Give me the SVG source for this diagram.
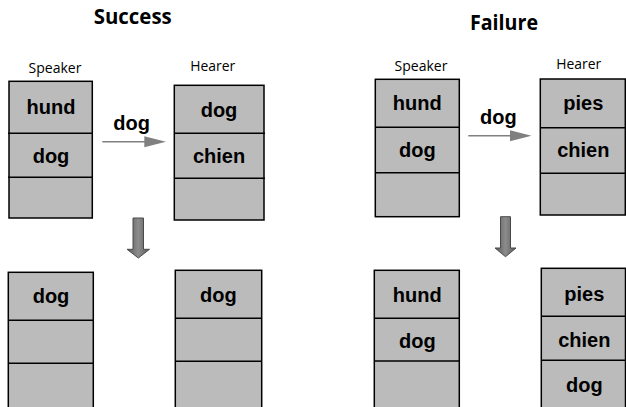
<svg xmlns="http://www.w3.org/2000/svg" width="626" height="407" viewBox="0 0 626 407">
<style>
.box{fill:#bbbbbb;stroke:#000;stroke-width:1.5}
.div{stroke:#000;stroke-width:1.5}
.w{font-family:"Liberation Sans",Arial,sans-serif;font-weight:bold;font-size:20px;fill:#000;text-anchor:middle}
.lab{font-family:"Open Sans","Liberation Sans",sans-serif;font-size:14px;fill:#000;text-anchor:middle}
.title{font-family:"Open Sans","Liberation Sans",sans-serif;font-weight:bold;font-size:21px;fill:#000;text-anchor:middle}
.arr{stroke:#808080;stroke-width:1.5;fill:none}
.head{fill:#808080}
.down{fill:url(#dg);stroke:#4a4a4a;stroke-width:1}
</style>
<defs>
<linearGradient id="dg" x1="0" y1="0" x2="1" y2="0">
<stop offset="0" stop-color="#5a5a5a"/>
<stop offset="0.5" stop-color="#8c8c8c"/>
<stop offset="1" stop-color="#5a5a5a"/>
</linearGradient>
</defs>
<rect width="626" height="407" fill="#fff"/>
<text class="title" x="132.7" y="24.3" textLength="78" lengthAdjust="spacingAndGlyphs">Success</text>
<text class="title" x="504" y="30" textLength="68" lengthAdjust="spacingAndGlyphs">Failure</text>
<text class="lab" x="55" y="72.7" textLength="53" lengthAdjust="spacingAndGlyphs">Speaker</text>
<text class="lab" x="212.7" y="71" textLength="45" lengthAdjust="spacingAndGlyphs">Hearer</text>
<text class="lab" x="421" y="70.7" textLength="53" lengthAdjust="spacingAndGlyphs">Speaker</text>
<text class="lab" x="578.7" y="69" textLength="45" lengthAdjust="spacingAndGlyphs">Hearer</text>

<g id="s-speaker">
<rect class="box" x="9" y="81.3" width="83.3" height="136.7"/>
<line class="div" x1="8" y1="133.3" x2="92.3" y2="133.3"/>
<line class="div" x1="8" y1="177.3" x2="92.3" y2="177.3"/>
<text class="w" x="51" y="114">hund</text>
<text class="w" x="51" y="163">dog</text>
</g>
<g id="s-hearer">
<rect class="box" x="174.3" y="85.3" width="89.7" height="134.7"/>
<line class="div" x1="174.3" y1="133.3" x2="265" y2="133.3"/>
<line class="div" x1="174.3" y1="178.3" x2="265" y2="178.3"/>
<text class="w" x="219" y="116.7">dog</text>
<text class="w" x="219" y="162.7">chien</text>
</g>
<g id="s-speaker-after">
<rect class="box" x="8.3" y="272.3" width="85" height="150"/>
<line class="div" x1="8.3" y1="320.3" x2="93.3" y2="320.3"/>
<line class="div" x1="8.3" y1="363.3" x2="93.3" y2="363.3"/>
<text class="w" x="51" y="303.3">dog</text>
</g>
<g id="s-hearer-after">
<rect class="box" x="175.3" y="270.3" width="86.4" height="150"/>
<line class="div" x1="175.3" y1="318.3" x2="261.7" y2="318.3"/>
<line class="div" x1="175.3" y1="361.3" x2="261.7" y2="361.3"/>
<text class="w" x="218.3" y="301.7">dog</text>
</g>
<g id="f-speaker">
<rect class="box" x="375.3" y="79.3" width="84" height="137.4"/>
<line class="div" x1="375.3" y1="127.3" x2="459.3" y2="127.3"/>
<line class="div" x1="375.3" y1="172.7" x2="459.3" y2="172.7"/>
<text class="w" x="417.3" y="110">hund</text>
<text class="w" x="417.3" y="157.3">dog</text>
</g>
<g id="f-hearer">
<rect class="box" x="540.3" y="79" width="85" height="136"/>
<line class="div" x1="540.3" y1="127.7" x2="625.3" y2="127.7"/>
<line class="div" x1="540.3" y1="173.3" x2="625.3" y2="173.3"/>
<text class="w" x="583.3" y="110">pies</text>
<text class="w" x="583.3" y="156.7">chien</text>
</g>
<g id="f-speaker-after">
<rect class="box" x="374.3" y="270.3" width="85" height="150"/>
<line class="div" x1="374.3" y1="318.3" x2="459.3" y2="318.3"/>
<line class="div" x1="374.3" y1="361" x2="459.3" y2="361"/>
<text class="w" x="417.3" y="301.7">hund</text>
<text class="w" x="417.3" y="348.3">dog</text>
</g>
<g id="f-hearer-after">
<rect class="box" x="541.3" y="268.3" width="84.2" height="150"/>
<line class="div" x1="541.3" y1="316.3" x2="626" y2="316.3"/>
<line class="div" x1="541.3" y1="360.3" x2="626" y2="360.3"/>
<text class="w" x="584.3" y="300.7">pies</text>
<text class="w" x="584.3" y="346.7">chien</text>
<text class="w" x="584.3" y="392.3">dog</text>
</g>

<g id="connectors">
<line class="arr" x1="102.3" y1="141.7" x2="145" y2="141.7"/>
<polygon class="head" points="144.3,136.2 166,141.7 144.3,147.2"/>
<text class="w" x="131.7" y="130">dog</text>
<line class="arr" x1="468.3" y1="135.7" x2="511" y2="135.7"/>
<polygon class="head" points="510,130.2 531.5,135.7 510,141.2"/>
<text class="w" x="498.3" y="124.3">dog</text>
<polygon class="down" points="133,218 143.5,218 143.5,249.3 149.5,249.3 138.3,258 127,249.3 133,249.3"/>
<polygon class="down" points="500.5,216.7 510.5,216.7 510.5,248 516,248 505.5,256.7 495,248 500.5,248"/>
</g>
</svg>
